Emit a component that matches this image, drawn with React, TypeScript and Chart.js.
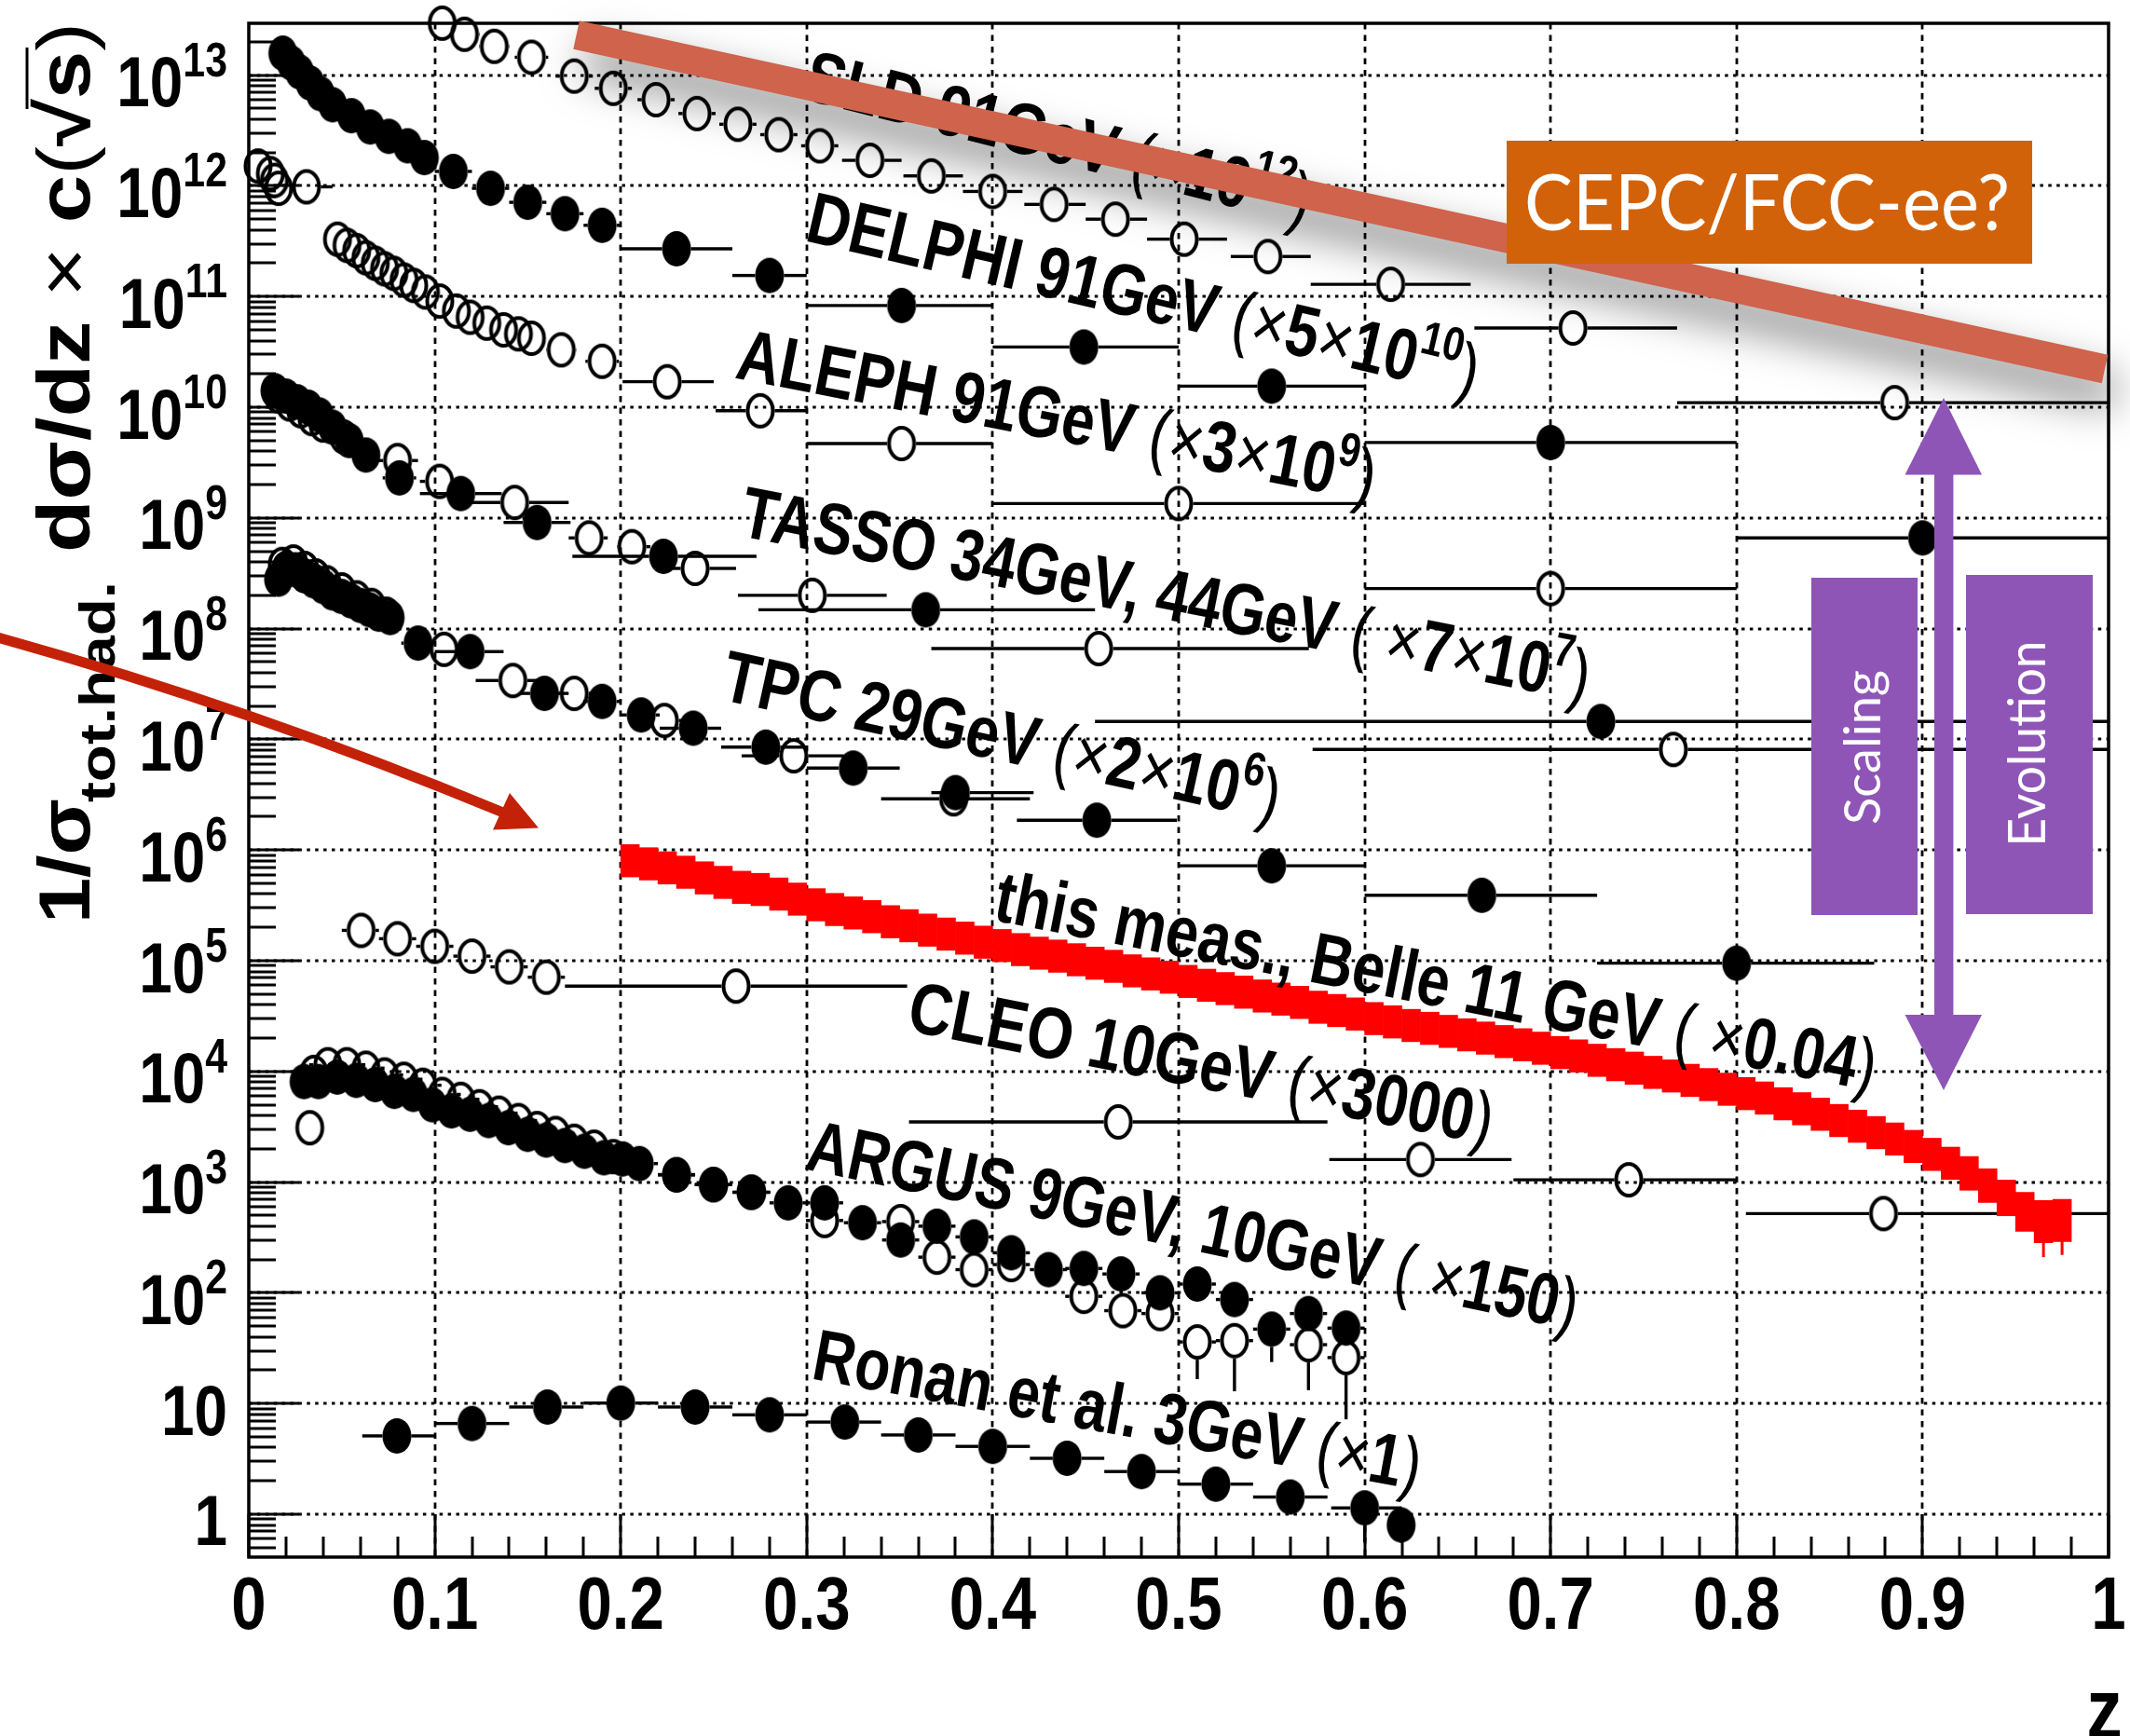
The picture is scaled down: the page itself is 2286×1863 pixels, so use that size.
import React, { useEffect, useRef } from "react";
import { Chart, registerables } from "chart.js";

Chart.register(...registerables);

// ---------------- data (values as plotted, i.e. already multiplied by the scale factor) ----------------
// SLD 91 GeV (x1e12) - open markers
const sldZ = [0.005, 0.0116, 0.0138, 0.016, 0.031, 0.104, 0.116, 0.132, 0.152, 0.175, 0.196, 0.219, 0.241, 0.263, 0.285, 0.307, 0.334, 0.367, 0.4, 0.433, 0.466, 0.503, 0.548, 0.614, 0.712, 0.885];
const sldV = [1.51e12, 1.29e12, 1.12e12, 9.5e11, 9.8e11, 2.95e13, 2.34e13, 1.82e13, 1.45e13, 9.8e12, 7.6e12, 6.0e12, 4.5e12, 3.6e12, 2.9e12, 2.3e12, 1.7e12, 1.23e12, 8.9e11, 6.8e11, 5.0e11, 3.3e11, 2.3e11, 1.29e11, 5.2e10, 1.1e10];
const sldBins = [null, null, null, null, [0.022, 0.045], [0.096, 0.112], [0.108, 0.124], [0.124, 0.14], [0.143, 0.161], [0.165, 0.185], [0.186, 0.206], [0.209, 0.229], [0.231, 0.251], [0.253, 0.273], [0.275, 0.295], [0.297, 0.317], [0.319, 0.351], [0.352, 0.384], [0.384, 0.416], [0.417, 0.45], [0.45, 0.483], [0.483, 0.526], [0.528, 0.571], [0.571, 0.657], [0.659, 0.768], [0.768, 1.0]];

// DELPHI 91 GeV (x5e10) - filled markers
const delphiZ = [0.0183, 0.0228, 0.0273, 0.0329, 0.0385, 0.0451, 0.0552, 0.0653, 0.0753, 0.0854, 0.0944, 0.11, 0.13, 0.15, 0.17, 0.19, 0.23, 0.28, 0.351, 0.449, 0.55, 0.7, 0.9];
const delphiV = [1.58e13, 1.29e13, 1.07e13, 8.5e12, 6.8e12, 5.4e12, 4.3e12, 3.4e12, 2.8e12, 2.3e12, 1.8e12, 1.35e12, 9.5e11, 7.1e11, 5.6e11, 4.4e11, 2.7e11, 1.55e11, 8.3e10, 3.5e10, 1.55e10, 4.8e9, 6.6e8];
const delphiBins = [null, null, null, null, null, null, null, null, null, null, null, [0.1, 0.12], [0.12, 0.14], [0.14, 0.16], [0.16, 0.18], [0.18, 0.2], [0.2, 0.26], [0.26, 0.3], [0.3, 0.4], [0.4, 0.5], [0.5, 0.6], [0.6, 0.8], [0.8, 1.0]];

// ALEPH 91 GeV (x3e9) - open markers
const alephZ = [0.0477, 0.0528, 0.058, 0.063, 0.068, 0.073, 0.078, 0.0835, 0.0887, 0.095, 0.1027, 0.1116, 0.119, 0.128, 0.137, 0.145, 0.152, 0.168, 0.19, 0.225, 0.275, 0.351, 0.5, 0.7];
const alephV = [3.3e11, 2.9e11, 2.6e11, 2.24e11, 2.0e11, 1.78e11, 1.62e11, 1.41e11, 1.26e11, 1.1e11, 9.1e10, 7.4e10, 6.5e10, 5.75e10, 5.0e10, 4.6e10, 4.2e10, 3.3e10, 2.6e10, 1.7e10, 9.3e9, 4.7e9, 1.35e9, 2.3e8];
const alephBins = [null, null, null, null, null, null, null, null, null, null, null, null, null, null, null, null, null, [0.16, 0.176], [0.181, 0.199], [0.201, 0.25], [0.251, 0.3], [0.3, 0.4], [0.4, 0.6], [0.6, 0.8]];

// TASSO 34 GeV / 44 GeV (x7e7)
const tassoFZ = [0.014, 0.02, 0.026, 0.032, 0.038, 0.045, 0.054, 0.063, 0.081, 0.114, 0.155, 0.223, 0.364, 0.727];
const tassoFV = [1.41e10, 1.26e10, 1.12e10, 1.0e10, 8.5e9, 6.6e9, 5.0e9, 3.7e9, 2.3e9, 1.66e9, 9.1e8, 4.5e8, 1.48e8, 1.45e7];
const tassoFBins = [null, null, null, null, null, null, null, null, [0.072, 0.09], [0.092, 0.136], [0.137, 0.173], [0.174, 0.273], [0.274, 0.455], [0.455, 1.0]];
const tassoOZ = [0.016, 0.022, 0.028, 0.034, 0.04, 0.051, 0.08, 0.1026, 0.143, 0.183, 0.206, 0.24, 0.303, 0.457, 0.766];
const tassoOV = [1.26e10, 1.07e10, 9.3e9, 7.9e9, 6.9e9, 5.4e9, 3.3e9, 2.14e9, 1.38e9, 6.6e8, 5.5e8, 3.5e8, 2.0e8, 6.6e7, 8.1e6];
const tassoOBins = [null, null, null, null, null, null, [0.069, 0.091], [0.092, 0.11], [0.117, 0.172], [0.172, 0.193], [0.198, 0.216], [0.222, 0.262], [0.263, 0.343], [0.367, 0.57], [0.572, 1.0]];

// TPC 29 GeV (x2e6)
const tpcFZ = [0.016, 0.02, 0.025, 0.03, 0.035, 0.04, 0.045, 0.05, 0.055, 0.06, 0.065, 0.07, 0.076, 0.091, 0.119, 0.159, 0.19, 0.211, 0.239, 0.278, 0.325, 0.38, 0.456, 0.55, 0.663, 0.8];
const tpcFV = [2.8e8, 3.5e8, 3.4e8, 3.0e8, 2.7e8, 2.4e8, 2.1e8, 1.95e8, 1.78e8, 1.62e8, 1.48e8, 1.35e8, 1.26e8, 7.4e7, 6.2e7, 2.6e7, 2.2e7, 1.66e7, 1.26e7, 8.5e6, 5.5e6, 3.3e6, 1.86e6, 7.2e5, 3.9e5, 9.5e4];
const tpcFBins = [null, null, null, null, null, null, null, null, null, null, null, null, null, [0.082, 0.1], [0.1, 0.137], [0.146, 0.172], [0.18, 0.2], [0.2, 0.221], [0.221, 0.254], [0.254, 0.3], [0.3, 0.35], [0.367, 0.422], [0.413, 0.499], [0.5, 0.6], [0.6, 0.725], [0.725, 0.874]];
const tpcOZ = [0.018, 0.024, 0.03, 0.036, 0.042, 0.05, 0.058, 0.066, 0.074, 0.105, 0.142, 0.175, 0.2235, 0.293, 0.379];
const tpcOV = [3.8e8, 4.0e8, 3.5e8, 3.0e8, 2.6e8, 2.24e8, 1.9e8, 1.62e8, 1.35e8, 6.5e7, 3.4e7, 2.6e7, 1.48e7, 7.1e6, 2.9e6];
const tpcOBins = [null, null, null, null, null, null, null, null, null, [0.099, 0.12], [0.122, 0.16], [0.16, 0.19], [0.21, 0.24], [0.265, 0.32], [0.34, 0.42]];

// this measurement, Belle 11 GeV (x0.04) - band
const belleZ = [0.205, 0.215, 0.225, 0.235, 0.245, 0.255, 0.265, 0.275, 0.285, 0.295, 0.305, 0.315, 0.325, 0.335, 0.345, 0.355, 0.365, 0.375, 0.385, 0.395, 0.405, 0.415, 0.425, 0.435, 0.445, 0.455, 0.465, 0.475, 0.485, 0.495, 0.505, 0.515, 0.525, 0.535, 0.545, 0.555, 0.565, 0.575, 0.585, 0.595, 0.605, 0.615, 0.625, 0.635, 0.645, 0.655, 0.665, 0.675, 0.685, 0.695, 0.705, 0.715, 0.725, 0.735, 0.745, 0.755, 0.765, 0.775, 0.785, 0.795, 0.805, 0.815, 0.825, 0.835, 0.845, 0.855, 0.865, 0.875, 0.885, 0.895, 0.905, 0.915, 0.925, 0.935, 0.945, 0.955, 0.965, 0.975];
const belleV = [8.0e5, 7.5e5, 6.9e5, 6.3e5, 5.6e5, 5.1e5, 4.6e5, 4.4e5, 4.0e5, 3.6e5, 3.2e5, 2.9e5, 2.7e5, 2.5e5, 2.25e5, 2.07e5, 1.89e5, 1.74e5, 1.6e5, 1.47e5, 1.37e5, 1.26e5, 1.17e5, 1.1e5, 1.02e5, 9.5e4, 8.9e4, 8.1e4, 7.6e4, 7.1e4, 6.5e4, 6.0e4, 5.6e4, 5.2e4, 4.8e4, 4.5e4, 4.2e4, 3.8e4, 3.55e4, 3.3e4, 3.0e4, 2.8e4, 2.6e4, 2.45e4, 2.3e4, 2.14e4, 2.0e4, 1.86e4, 1.74e4, 1.62e4, 1.48e4, 1.38e4, 1.26e4, 1.15e4, 1.07e4, 9.8e3, 9.1e3, 8.3e3, 7.6e3, 6.9e3, 6.3e3, 5.75e3, 5.1e3, 4.6e3, 4.1e3, 3.6e3, 3.2e3, 2.8e3, 2.45e3, 2.1e3, 1.78e3, 1.48e3, 1.2e3, 930, 720, 540, 440, 450];
const belleErr = [1.4, 1.4, 1.4, 1.4, 1.4, 1.4, 1.4, 1.4, 1.4, 1.4, 1.4, 1.4, 1.4, 1.4, 1.4, 1.4, 1.4, 1.4, 1.4, 1.4, 1.4, 1.4, 1.4, 1.4, 1.4, 1.4, 1.4, 1.4, 1.4, 1.4, 1.4, 1.4, 1.4, 1.4, 1.4, 1.4, 1.4, 1.4, 1.4, 1.4, 1.4, 1.4, 1.4, 1.4, 1.4, 1.4, 1.4, 1.4, 1.4, 1.4, 1.4, 1.4, 1.4, 1.4, 1.4, 1.4, 1.4, 1.4, 1.4, 1.4, 1.4, 1.4, 1.4, 1.4, 1.4, 1.4, 1.4, 1.4, 1.4, 1.4, 1.4, 1.4, 1.42, 1.42, 1.45, 1.5, 1.55, 1.55];
const belleYLo = [210, 220];

// CLEO 10 GeV (x3000) - open markers
const cleoZ = [0.0604, 0.08, 0.1, 0.12, 0.14, 0.16, 0.262, 0.4675, 0.63, 0.742, 0.879];
const cleoV = [1.88e5, 1.58e5, 1.35e5, 1.1e5, 8.8e4, 7.1e4, 5.9e4, 3.5e3, 1.6e3, 1.05e3, 520];
const cleoBins = [[0.05, 0.07], [0.07, 0.09], [0.09, 0.11], [0.11, 0.13], [0.13, 0.15], [0.15, 0.17], [0.17, 0.354], [0.355, 0.58], [0.581, 0.679], [0.68, 0.8], [0.805, 1.0]];

// ARGUS 9 GeV, 10 GeV (x150)
const argusFZ = [0.0297, 0.0374, 0.0476, 0.0578, 0.068, 0.0783, 0.0885, 0.0987, 0.109, 0.119, 0.129, 0.1396, 0.15, 0.16, 0.17, 0.1805, 0.191, 0.201, 0.21, 0.23, 0.2497, 0.2705, 0.29, 0.3096, 0.33, 0.3505, 0.37, 0.39, 0.41, 0.43, 0.449, 0.469, 0.49, 0.51, 0.53, 0.55, 0.5698, 0.59];
const argusFV = [8.1e3, 8.1e3, 8.9e3, 8.3e3, 7.6e3, 6.6e3, 6.2e3, 5.0e3, 4.4e3, 4.1e3, 3.6e3, 3.1e3, 2.7e3, 2.4e3, 2.14e3, 1.9e3, 1.66e3, 1.62e3, 1.47e3, 1.16e3, 950, 810, 650, 650, 430, 300, 400, 320, 230, 162, 166, 148, 100, 120, 87, 47, 65, 48];
const argusFYLo = [null, null, null, null, null, null, null, null, null, null, null, null, null, null, null, null, null, null, null, null, null, null, null, null, null, null, null, null, null, null, null, null, null, null, null, 23.7, null, null];
const argusOZ = [0.0328, 0.035, 0.0425, 0.0527, 0.063, 0.073, 0.0834, 0.0936, 0.104, 0.114, 0.124, 0.1345, 0.145, 0.155, 0.165, 0.175, 0.1857, 0.196, 0.23, 0.25, 0.27, 0.3096, 0.3505, 0.37, 0.39, 0.41, 0.449, 0.47, 0.49, 0.51, 0.53, 0.5698, 0.59];
const argusOV = [3.1e3, 9.8e3, 1.15e4, 1.15e4, 1.07e4, 9.3e3, 8.5e3, 7.5e3, 6.2e3, 5.6e3, 4.8e3, 4.2e3, 3.6e3, 3.05e3, 2.75e3, 2.34e3, 2.07e3, 1.7e3, 1.17e3, 950, 810, 450, 440, 210, 162, 180, 93, 69, 65, 36, 37, 34, 26];
const argusOYLo = [null, null, null, null, null, null, null, null, null, null, null, null, null, null, null, null, null, null, null, null, null, null, null, null, null, null, null, null, null, 16.6, 12.9, 13.2, 7.2];
const argusBinWidth = 0.02;

// Ronan et al. 3 GeV (x1) - filled markers
const ronanZ = [0.0796, 0.12, 0.1606, 0.2, 0.24, 0.28, 0.3205, 0.36, 0.4, 0.44, 0.48, 0.52, 0.56, 0.6, 0.6196];
const ronanV = [5.1, 6.6, 9.3, 10.1, 9.3, 7.9, 6.8, 5.2, 4.1, 3.2, 2.43, 1.87, 1.43, 1.14, 0.8];
const ronanBins = [[0.061, 0.1], [0.1, 0.14], [0.14, 0.18], [0.18, 0.22], [0.22, 0.26], [0.26, 0.3], [0.3, 0.34], [0.34, 0.38], [0.38, 0.42], [0.42, 0.46], [0.46, 0.5], [0.5, 0.54], [0.54, 0.58], [0.582, 0.62], null];
const ronanYLo = [null, null, null, null, null, null, null, null, null, null, null, null, null, 0.56, 0.58];

// axes
const xTickValues = [0, 0.1, 0.2, 0.3, 0.4, 0.5, 0.6, 0.7, 0.8, 0.9, 1];
const xTickLabels = ["0", "0.1", "0.2", "0.3", "0.4", "0.5", "0.6", "0.7", "0.8", "0.9", "1"];
const yTickValues = [1, 1e1, 1e2, 1e3, 1e4, 1e5, 1e6, 1e7, 1e8, 1e9, 1e10, 1e11, 1e12, 1e13];
const yTickBase = ["1", "10", "10", "10", "10", "10", "10", "10", "10", "10", "10", "10", "10", "10"];
const yTickExp = ["", "", "2", "3", "4", "5", "6", "7", "8", "9", "10", "11", "12", "13"];
const Y_MIN = 0.41;
const Y_MAX = 2.94e13;

// annotation texts
const annTexts = [
  "SLD 91GeV (×10^{12})",
  "DELPHI 91GeV (×5×10^{10})",
  "ALEPH 91GeV (×3×10^{9})",
  "TASSO 34GeV, 44GeV ( ×7×10^{7})",
  "TPC 29GeV (×2×10^{6})",
  "this meas., Belle 11 GeV ( ×0.04)",
  "CLEO 10GeV (×3000)",
  "ARGUS 9GeV, 10GeV ( ×150)",
  "Ronan et al. 3GeV (×1)",
];
const annCenters = [[1137, 146], [1228, 314], [1135, 444], [1252, 636], [1076, 788], [1542, 1051], [1290, 1139], [1281, 1313], [1200, 1511]];
const annAngles = [14.1, 13.1, 11.0, 11.1, 12.4, 11.0, 11.1, 11.85, 10.4];
const annLengths = [558, 738, 697, 927, 611, 962, 638, 844, 662];

const RF = "'Liberation Sans', Arial, Helvetica, sans-serif";
const LF = "Lato, 'Open Sans', 'Noto Sans', sans-serif";
const MRX = 15.5;
const MRY = 19;

function parseRich(s: string) {
  const segs: any[] = [];
  const push = (t: string, sup: boolean) => {
    for (const c of t) {
      const thin = c === "(" || c === ")" || c === "×";
      const last = segs[segs.length - 1];
      if (last && last.sup === sup && last.thin === thin) last.t += c;
      else segs.push({ t: c, sup, thin });
    }
  };
  let i = 0;
  let buf = "";
  while (i < s.length) {
    if (s.startsWith("^{", i)) {
      push(buf, false);
      buf = "";
      const j = s.indexOf("}", i);
      push(s.slice(i + 2, j), true);
      i = j + 1;
    } else {
      buf += s[i];
      i++;
    }
  }
  push(buf, false);
  return segs;
}

function drawRich(ctx: CanvasRenderingContext2D, s: string, x: number, y: number, len: number, size: number, center: boolean) {
  const segs = parseRich(s);
  let W = 0;
  for (const g of segs) {
    g.font = `${g.thin ? "normal" : "bold"} ${g.sup ? Math.round(size * 0.66) : size}px ${RF}`;
    ctx.font = g.font;
    g.w = ctx.measureText(g.t).width;
    W += g.w;
  }
  const sx = len / W;
  ctx.save();
  ctx.translate(x, y);
  ctx.scale(sx, 1);
  ctx.textAlign = "left";
  ctx.textBaseline = "alphabetic";
  let cx = center ? -W / 2 : 0;
  for (const g of segs) {
    ctx.font = g.font;
    ctx.fillText(g.t, cx, g.sup ? -size * 0.42 : 0);
    cx += g.w;
  }
  ctx.restore();
}

function drawFit(ctx: CanvasRenderingContext2D, text: string, x: number, y: number, font: string, width: number, align: CanvasTextAlign) {
  ctx.font = font;
  const w = ctx.measureText(text).width;
  ctx.save();
  ctx.translate(x, y);
  ctx.scale(width / w, 1);
  ctx.textAlign = align;
  ctx.textBaseline = "alphabetic";
  ctx.fillText(text, 0, 0);
  ctx.restore();
}

function drawScaled(ctx: CanvasRenderingContext2D, text: string, x: number, y: number, font: string, sx: number, align: CanvasTextAlign) {
  ctx.font = font;
  ctx.save();
  ctx.translate(x, y);
  ctx.scale(sx, 1);
  ctx.textAlign = align;
  ctx.textBaseline = "alphabetic";
  ctx.fillText(text, 0, 0);
  ctx.restore();
}

function line(ctx: CanvasRenderingContext2D, x1: number, y1: number, x2: number, y2: number) {
  ctx.beginPath();
  ctx.moveTo(x1, y1);
  ctx.lineTo(x2, y2);
  ctx.stroke();
}

function makeMarker(filled: boolean) {
  const c = document.createElement("canvas");
  c.width = 34;
  c.height = 40;
  const g = c.getContext("2d")!;
  g.beginPath();
  if (filled) {
    g.ellipse(17, 20, MRX, MRY, 0, 0, Math.PI * 2);
    g.fillStyle = "#000";
    g.fill();
  } else {
    g.ellipse(17, 20, MRX - 2, MRY - 2, 0, 0, Math.PI * 2);
    g.lineWidth = 4;
    g.strokeStyle = "#000";
    g.stroke();
  }
  return c;
}

const decorPlugin = {
  id: "decor",
  beforeDatasetsDraw(chart: any) {
    const { ctx, chartArea: a, scales } = chart;
    const xs = scales.x;
    const ys = scales.y;
    ctx.save();
    ctx.strokeStyle = "#000";
    ctx.lineCap = "butt";
    // dotted grid
    ctx.lineWidth = 2.8;
    ctx.setLineDash([6.5, 6]);
    for (const v of xTickValues) {
      if (v <= 0 || v >= 1) continue;
      const px = Math.round(xs.getPixelForValue(v));
      line(ctx, px, a.top, px, a.bottom);
    }
    ctx.setLineDash([3.5, 5.4]);
    for (const v of yTickValues) {
      const py = Math.round(ys.getPixelForValue(v));
      line(ctx, a.left, py, a.right, py);
    }
    ctx.setLineDash([]);
    // error bars
    ctx.lineWidth = 3.4;
    chart.data.datasets.forEach((ds: any) => {
      if (!ds.bins && !ds.yLo && !ds.binWidth) return;
      if (ds.type === "bar") return;
      ds.data.forEach((p: any, j: number) => {
        const px = xs.getPixelForValue(p.x);
        const py = ys.getPixelForValue(p.y);
        let b = ds.bins ? ds.bins[j] : null;
        if (!b && ds.binWidth && p.x > 0.04) b = [p.x - ds.binWidth / 2, p.x + ds.binWidth / 2];
        if (b) {
          const x1 = xs.getPixelForValue(b[0]);
          const x2 = xs.getPixelForValue(b[1]);
          if (x1 < px - MRX) line(ctx, x1, py, px - MRX, py);
          if (x2 > px + MRX) line(ctx, px + MRX, py, x2, py);
        }
        const yl = ds.yLo ? ds.yLo[j] : null;
        if (yl) line(ctx, px, py + MRY, px, ys.getPixelForValue(yl));
      });
    });
    // Belle end-point vertical errors
    ctx.strokeStyle = "#FF0000";
    ctx.lineWidth = 3;
    belleYLo.forEach((yl, k) => {
      const j = belleZ.length - belleYLo.length + k;
      const px = xs.getPixelForValue(belleZ[j]);
      line(ctx, px, ys.getPixelForValue(belleV[j]), px, ys.getPixelForValue(yl));
    });
    ctx.restore();
  },
  afterDatasetsDraw(chart: any) {
    const { ctx, chartArea: a, scales } = chart;
    const xs = scales.x;
    const ys = scales.y;
    ctx.save();
    ctx.strokeStyle = "#000";
    ctx.fillStyle = "#000";
    ctx.lineCap = "butt";
    // frame
    ctx.lineWidth = 3.5;
    ctx.strokeRect(a.left, a.top, a.right - a.left, a.bottom - a.top);
    // y ticks (inside)
    ctx.lineWidth = 3;
    for (let n = -1; n <= 13; n++) {
      for (let k = 1; k <= 9; k++) {
        const v = k * Math.pow(10, n);
        if (v < Y_MIN || v > Y_MAX) continue;
        const py = Math.round(ys.getPixelForValue(v));
        line(ctx, a.left, py, a.left + (k === 1 ? 54 : 29), py);
      }
    }
    // x ticks (inside)
    for (let i = 0; i <= 50; i++) {
      const px = Math.round(xs.getPixelForValue(i * 0.02));
      line(ctx, px, a.bottom, px, a.bottom - (i % 5 === 0 ? 46 : 22));
    }
    // y tick labels
    const sxl = 0.84;
    yTickValues.forEach((v, i) => {
      const py = ys.getPixelForValue(v);
      const mainFont = `bold 76px ${RF}`;
      const supFont = `bold 51px ${RF}`;
      ctx.font = mainFont;
      const wm = ctx.measureText(yTickBase[i]).width * sxl;
      ctx.font = supFont;
      const wsp = yTickExp[i] ? ctx.measureText(yTickExp[i]).width * sxl : 0;
      const x0 = 244 - wm - wsp;
      drawScaled(ctx, yTickBase[i], x0, py + 33.5, mainFont, sxl, "left");
      if (yTickExp[i]) drawScaled(ctx, yTickExp[i], x0 + wm, py + 1, supFont, sxl, "left");
    });
    // x tick labels
    xTickValues.forEach((v, i) => {
      const px = xs.getPixelForValue(v);
      drawScaled(ctx, xTickLabels[i], px, 1748, `bold 80px ${RF}`, 0.84, "center");
    });
    // x title
    drawScaled(ctx, "z", 2278, 1866, `bold 92px ${RF}`, 0.84, "right");
    // y title (rotated)
    ctx.save();
    ctx.translate(96, 991);
    ctx.rotate(-Math.PI / 2);
    drawFit(ctx, "1/σ", 0, 0, `bold 78px ${RF}`, 134, "left");
    drawFit(ctx, "tot.had.", 130, 27, `bold 54px ${RF}`, 237, "left");
    drawRich(ctx, "dσ/dz × c(√s)", 398, 0, 569, 80, false);
    ctx.restore();
    ctx.lineWidth = 3;
    line(ctx, 29, 51, 29, 117);

    // dataset annotations
    annTexts.forEach((t, i) => {
      ctx.save();
      ctx.translate(annCenters[i][0], annCenters[i][1]);
      ctx.rotate((annAngles[i] * Math.PI) / 180);
      drawRich(ctx, t, 0, (78 * 0.729) / 2, annLengths[i], 78, true);
      ctx.restore();
    });

    // CEPC/FCC-ee stripe with shadow
    ctx.save();
    ctx.shadowColor = "rgba(0,0,0,0.5)";
    ctx.shadowBlur = 45;
    ctx.shadowOffsetX = 10;
    ctx.shadowOffsetY = 25;
    ctx.strokeStyle = "#CF634B";
    ctx.lineWidth = 31;
    ctx.lineCap = "butt";
    line(ctx, 618.6, 37.5, 2259, 396);
    ctx.restore();
    // CEPC box
    ctx.fillStyle = "#D2620A";
    ctx.fillRect(1617, 151, 564, 132);
    ctx.fillStyle = "#fff";
    drawFit(ctx, "CEPC/FCC-ee?", 1636, 247, `normal 83px ${LF}`, 521, "left");

    // purple boxes
    ctx.fillStyle = "#8E55B7";
    ctx.fillRect(1944, 620, 114, 362);
    ctx.fillRect(2110, 617, 136, 364);
    ctx.fillStyle = "#fff";
    ctx.save();
    ctx.translate(2017.6, 802);
    ctx.rotate(-Math.PI / 2);
    drawFit(ctx, "Scaling", 0, 0, `normal 54px ${LF}`, 166, "center");
    ctx.restore();
    ctx.save();
    ctx.translate(2195, 798);
    ctx.rotate(-Math.PI / 2);
    drawFit(ctx, "Evolution", 0, 0, `normal 57px ${LF}`, 221, "center");
    ctx.restore();
    // purple double arrow
    ctx.fillStyle = "#8E55B7";
    ctx.fillRect(2076, 508, 20.4, 583);
    ctx.beginPath();
    ctx.moveTo(2086, 427);
    ctx.lineTo(2044.5, 509.5);
    ctx.lineTo(2127, 509.5);
    ctx.closePath();
    ctx.fill();
    ctx.beginPath();
    ctx.moveTo(2086, 1170);
    ctx.lineTo(2044.5, 1089);
    ctx.lineTo(2127, 1089);
    ctx.closePath();
    ctx.fill();

    // red arrow
    ctx.strokeStyle = "#C42208";
    ctx.fillStyle = "#C42208";
    ctx.lineWidth = 11;
    ctx.beginPath();
    ctx.moveTo(-10, 682);
    ctx.quadraticCurveTo(265, 758, 540, 872);
    ctx.stroke();
    ctx.beginPath();
    ctx.moveTo(578, 888.5);
    ctx.lineTo(547, 851);
    ctx.lineTo(529, 890.5);
    ctx.closePath();
    ctx.fill();

    ctx.restore();
  },
};

function pts(z: number[], v: number[]) {
  return z.map((x, i) => ({ x, y: v[i] }));
}

export default function App() {
  const ref = useRef<HTMLCanvasElement | null>(null);
  useEffect(() => {
    if (!ref.current) return;
    const filled = makeMarker(true);
    const open = makeMarker(false);
    const sc = (label: string, z: number[], v: number[], marker: any, extra: any = {}) => ({
      type: "scatter",
      label,
      data: pts(z, v),
      pointStyle: marker,
      pointRadius: 16,
      showLine: false,
      clip: false,
      ...extra,
    });
    const datasets: any[] = [
      sc("SLD 91GeV", sldZ, sldV, open, { bins: sldBins }),
      sc("DELPHI 91GeV", delphiZ, delphiV, filled, { bins: delphiBins }),
      sc("ALEPH 91GeV", alephZ, alephV, open, { bins: alephBins }),
      sc("TASSO 44GeV", tassoOZ, tassoOV, open, { bins: tassoOBins }),
      sc("TASSO 34GeV", tassoFZ, tassoFV, filled, { bins: tassoFBins }),
      sc("TPC 29GeV open", tpcOZ, tpcOV, open, { bins: tpcOBins }),
      sc("TPC 29GeV", tpcFZ, tpcFV, filled, { bins: tpcFBins }),
      sc("CLEO 10GeV", cleoZ, cleoV, open, { bins: cleoBins }),
      sc("ARGUS 10GeV", argusOZ, argusOV, open, { yLo: argusOYLo, binWidth: argusBinWidth }),
      sc("ARGUS 9GeV", argusFZ, argusFV, filled, { yLo: argusFYLo, binWidth: argusBinWidth }),
      sc("Ronan et al. 3GeV", ronanZ, ronanV, filled, { bins: ronanBins, yLo: ronanYLo }),
      {
        type: "bar",
        label: "this meas., Belle 11 GeV",
        data: belleZ.map((x, i) => ({ x, y: [belleV[i] / belleErr[i], belleV[i] * belleErr[i]] })),
        backgroundColor: "#FF0000",
        borderWidth: 0,
        barPercentage: 1,
        categoryPercentage: 1,
        clip: false,
      },
    ];
    const chart = new Chart(ref.current, {
      type: "scatter",
      data: { datasets } as any,
      options: {
        animation: false,
        responsive: true,
        maintainAspectRatio: false,
        devicePixelRatio: 1,
        events: [],
        layout: { padding: { left: 267, top: 25, right: 23, bottom: 192 } },
        scales: {
          x: { type: "linear", min: 0, max: 1, display: false, offset: false, grid: { display: false, offset: false } },
          y: { type: "logarithmic", min: Y_MIN, max: Y_MAX, display: false },
        },
        plugins: { legend: { display: false }, tooltip: { enabled: false } },
      } as any,
      plugins: [decorPlugin as any],
    });
    return () => chart.destroy();
  }, []);
  return (
    <div style={{ position: "fixed", left: 0, top: 0, width: 2286, height: 1863, background: "#fff" }}>
      <canvas ref={ref} style={{ display: "block" }} />
    </div>
  );
}
